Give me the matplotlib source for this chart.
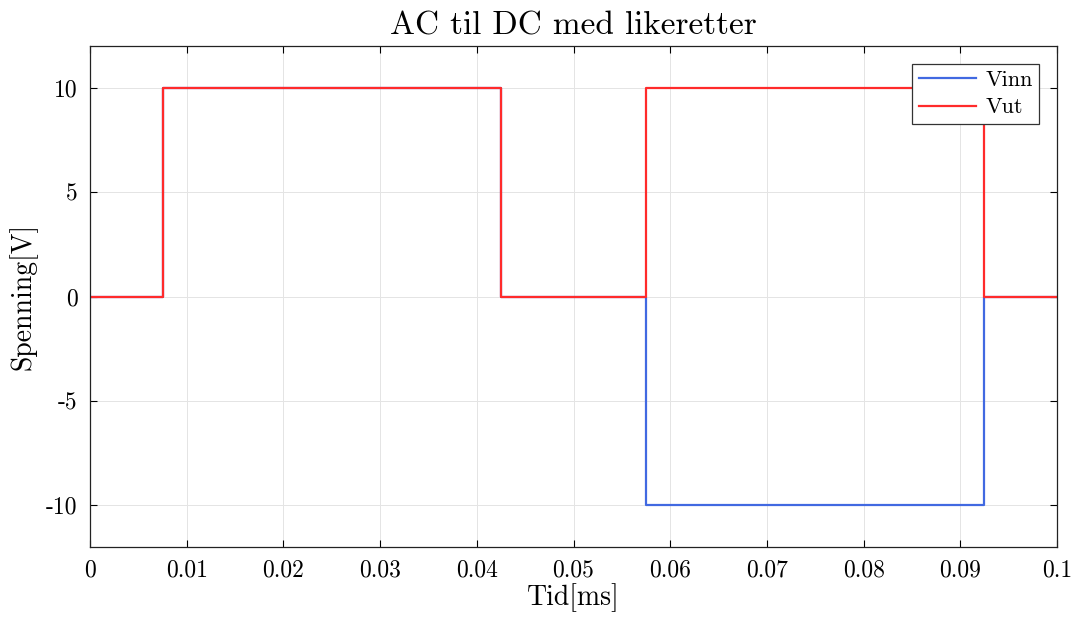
import matplotlib
matplotlib.use("agg")
import matplotlib.pyplot as plt

plt.rcParams['font.family'] = 'serif'
plt.rcParams['font.serif'] = ['cmr10', 'DejaVu Serif']
plt.rcParams['mathtext.fontset'] = 'cm'
plt.rcParams['axes.unicode_minus'] = False
plt.rcParams['axes.formatter.use_mathtext'] = True

# step signal: switching times [ms] and levels [V]
t = [0, 0.0075, 0.0075, 0.0425, 0.0425, 0.0575, 0.0575, 0.0925, 0.0925, 0.1]
vinn = [0, 0, 10, 10, 0, 0, -10, -10, 0, 0]
vut = [0, 0, 10, 10, 0, 0, 10, 10, 0, 0]

xticks = [0, 0.01, 0.02, 0.03, 0.04, 0.05, 0.06, 0.07, 0.08, 0.09, 0.1]
xticklabels = ['0', '0.01', '0.02', '0.03', '0.04', '0.05', '0.06', '0.07', '0.08', '0.09', '0.1']
yticks = [-10, -5, 0, 5, 10]
yticklabels = ['-10', '-5', '0', '5', '10']

fig = plt.figure(figsize=(10.74, 6.19), dpi=100)
ax = fig.add_axes([90 / 1074, 1 - 547 / 619, 967 / 1074, 501 / 619])

ax.plot(t, vinn, color='#4169E1', lw=1.6, label='Vinn')
ax.plot(t, vut, color='#FF2B2B', lw=1.6, label='Vut')

ax.set_xlim(0, 0.1)
ax.set_ylim(-12, 12)
ax.set_xticks(xticks)
ax.set_xticklabels(xticklabels)
ax.set_yticks(yticks)
ax.set_yticklabels(yticklabels)
ax.tick_params(direction='in', top=True, right=True, labelsize=17, length=5, width=0.8, pad=9)
ax.grid(True, color='#E4E4E4', lw=0.7)
ax.set_axisbelow(True)
for s in ax.spines.values():
    s.set_linewidth(0.9)
    s.set_color('#222222')

ax.set_title('AC til DC med likeretter', fontsize=24, pad=8)
ax.set_xlabel('Tid[ms]', fontsize=20, labelpad=1)
ax.set_ylabel('Spenning[V]', fontsize=20, labelpad=6)

leg = ax.legend(loc='upper right', fontsize=16, fancybox=False, framealpha=1,
                edgecolor='#333333', borderaxespad=0.8, handlelength=2.6,
                handletextpad=0.4, borderpad=0.3, labelspacing=0.35)
leg.get_frame().set_linewidth(0.9)

fig.savefig('out.png', dpi=100)
